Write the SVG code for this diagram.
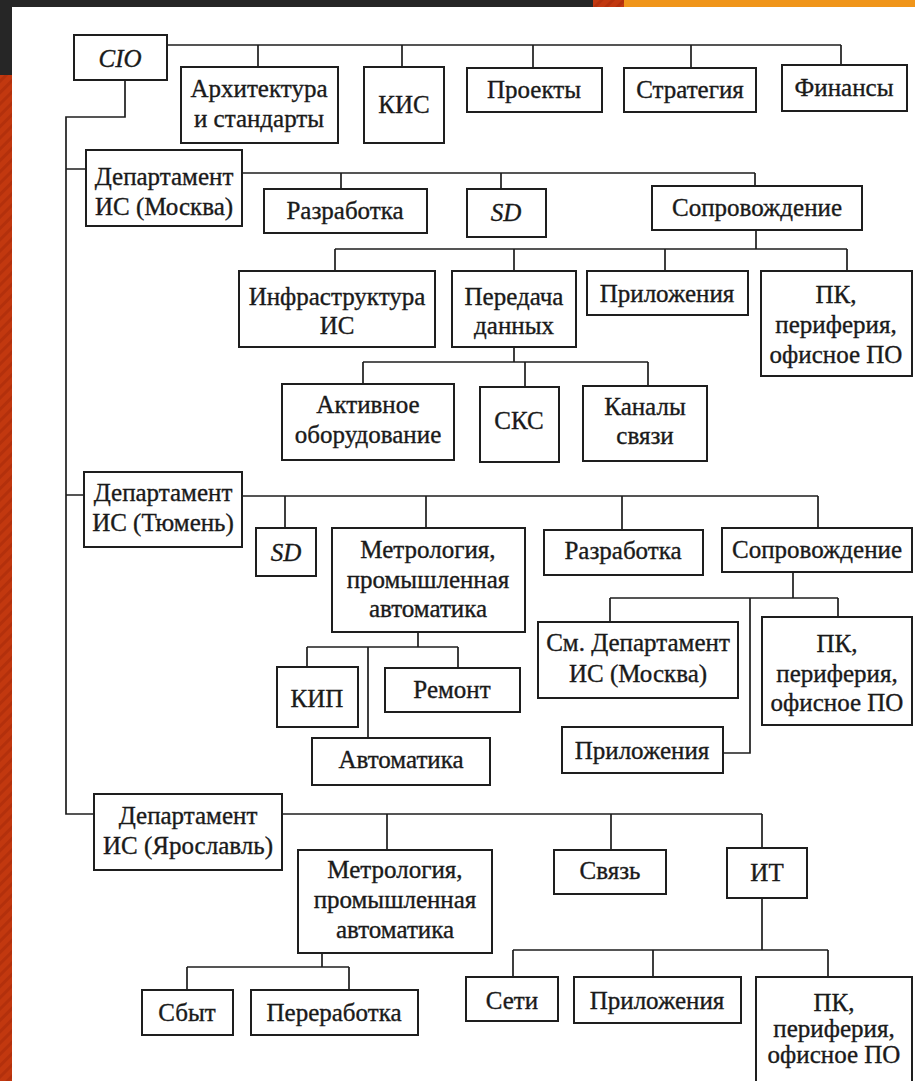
<svg xmlns="http://www.w3.org/2000/svg" width="915" height="1081" viewBox="0 0 915 1081">
<defs>
<pattern id="stripes" width="8" height="8" patternUnits="userSpaceOnUse" patternTransform="rotate(45)">
<rect width="8" height="8" fill="#c2380f"/>
<rect width="3" height="8" fill="#b3300c"/>
</pattern>
<style>
.box{fill:#fff;stroke:#1e1e1e;stroke-width:2}
.ln{fill:none;stroke:#1e1e1e;stroke-width:1.7}
text{font-family:"Liberation Serif","Times New Roman",serif;font-size:25px;fill:#1a1a1a;stroke:#1a1a1a;stroke-width:0.35;text-anchor:middle}
.it{font-style:italic}
</style>
</defs>
<rect width="915" height="1081" fill="#fff"/>
<rect x="0" y="0" width="915" height="7" fill="#262626"/>
<rect x="593" y="0" width="31" height="7" fill="url(#stripes)"/>
<rect x="624" y="0" width="291" height="7" fill="#f0951a"/>
<rect x="0" y="0" width="12" height="75" fill="#262626"/>
<rect x="0" y="75" width="12" height="1006" fill="url(#stripes)"/>

<g id="connectors">
<path class="ln" d="M167,45 H841 M258,45 V67 M402,45 V67 M533,45 V68 M691,45 V68 M841,45 V65"/>
<path class="ln" d="M125,80 V117 H66 V814 H94 M66,169 H86 M66,495 H84"/>
<path class="ln" d="M242,173 H755 M341,173 V189 M501,173 V189 M755,173 V186"/>
<path class="ln" d="M756,230 V249 M335,249 H847 M335,249 V271 M514,249 V271 M665,249 V271 M847,249 V271"/>
<path class="ln" d="M514,347 V362 M363,362 H648 M363,362 V384 M525,362 V387 M648,362 V386"/>
<path class="ln" d="M242,496 H818 M285,496 V528 M426,496 V528 M622,496 V530 M818,496 V528"/>
<path class="ln" d="M418,632 V647 M307,647 H458 M307,647 V667 M458,647 V668 M368,647 V738"/>
<path class="ln" d="M793,572 V598 M610,598 H838 M610,598 V622 M838,598 V617 M750,598 V753 H723"/>
<path class="ln" d="M282,814 H762 M387,814 V850 M611,814 V850 M762,814 V848"/>
<path class="ln" d="M322,953 V967 M187,967 H349 M187,967 V990 M349,967 V990"/>
<path class="ln" d="M762,898 V950 M513,950 H828 M513,950 V977 M653,950 V977 M828,950 V977"/>
</g>

<g id="cio"><rect class="box" x="74" y="35" width="93" height="45"/><text class="it" x="120" y="67">CIO</text></g>
<g id="arch"><rect class="box" x="181" y="67" width="157" height="76"/><text x="259" y="97">Архитектура</text><text x="259" y="127">и стандарты</text></g>
<g id="kis"><rect class="box" x="364" y="67" width="80" height="76"/><text x="404" y="113">КИС</text></g>
<g id="proekty"><rect class="box" x="467" y="68" width="135" height="44"/><text x="534" y="98">Проекты</text></g>
<g id="strategia"><rect class="box" x="624" y="68" width="132" height="44"/><text x="690" y="98">Стратегия</text></g>
<g id="finansy"><rect class="box" x="782" y="65" width="125" height="46"/><text x="844" y="96">Финансы</text></g>

<g id="dep-moscow"><rect class="box" x="86" y="150" width="156" height="76"/><text x="164" y="185">Департамент</text><text x="164" y="215">ИС (Москва)</text></g>
<g id="m-razrabotka"><rect class="box" x="264" y="189" width="163" height="44"/><text x="345" y="219">Разработка</text></g>
<g id="m-sd"><rect class="box" x="467" y="189" width="79" height="48"/><text class="it" x="506" y="221">SD</text></g>
<g id="m-soprov"><rect class="box" x="652" y="186" width="210" height="44"/><text x="757" y="216">Сопровождение</text></g>
<g id="m-infra"><rect class="box" x="239" y="271" width="196" height="76"/><text x="337" y="305">Инфраструктура</text><text x="337" y="334">ИС</text></g>
<g id="m-peredacha"><rect class="box" x="452" y="271" width="124" height="76"/><text x="514" y="305">Передача</text><text x="514" y="334">данных</text></g>
<g id="m-prilozh"><rect class="box" x="587" y="271" width="161" height="44"/><text x="667" y="302">Приложения</text></g>
<g id="m-pk"><rect class="box" x="761" y="271" width="151" height="105"/><text x="836" y="303">ПК,</text><text x="836" y="333">периферия,</text><text x="836" y="363">офисное ПО</text></g>
<g id="m-aktiv"><rect class="box" x="282" y="384" width="172" height="76"/><text x="368" y="413">Активное</text><text x="368" y="443">оборудование</text></g>
<g id="m-sks"><rect class="box" x="480" y="387" width="79" height="75"/><text x="519" y="429">СКС</text></g>
<g id="m-kanaly"><rect class="box" x="583" y="386" width="124" height="75"/><text x="645" y="415">Каналы</text><text x="645" y="444">связи</text></g>

<g id="dep-tyumen"><rect class="box" x="84" y="472" width="158" height="75"/><text x="163" y="501">Департамент</text><text x="163" y="531">ИС (Тюмень)</text></g>
<g id="t-sd"><rect class="box" x="256" y="528" width="60" height="48"/><text class="it" x="286" y="561">SD</text></g>
<g id="t-metro"><rect class="box" x="332" y="528" width="193" height="104"/><text x="428" y="558">Метрология,</text><text x="428" y="588">промышленная</text><text x="428" y="617">автоматика</text></g>
<g id="t-razrabotka"><rect class="box" x="544" y="530" width="159" height="45"/><text x="623" y="559">Разработка</text></g>
<g id="t-soprov"><rect class="box" x="722" y="528" width="190" height="44"/><text x="817" y="558">Сопровождение</text></g>
<g id="t-kip"><rect class="box" x="277" y="667" width="81" height="60"/><text x="317" y="707">КИП</text></g>
<g id="t-remont"><rect class="box" x="385" y="668" width="135" height="44"/><text x="452" y="698">Ремонт</text></g>
<g id="t-avtomatika"><rect class="box" x="312" y="738" width="178" height="47"/><text x="401" y="768">Автоматика</text></g>
<g id="t-sm"><rect class="box" x="538" y="622" width="200" height="76"/><text x="638" y="651">См. Департамент</text><text x="638" y="682">ИС (Москва)</text></g>
<g id="t-pk"><rect class="box" x="762" y="617" width="150" height="108"/><text x="837" y="652">ПК,</text><text x="837" y="682">периферия,</text><text x="837" y="711">офисное ПО</text></g>
<g id="t-prilozh"><rect class="box" x="562" y="727" width="161" height="46"/><text x="642" y="759">Приложения</text></g>

<g id="dep-yar"><rect class="box" x="94" y="794" width="188" height="76"/><text x="188" y="824">Департамент</text><text x="188" y="854">ИС (Ярославль)</text></g>
<g id="y-metro"><rect class="box" x="298" y="850" width="194" height="103"/><text x="395" y="878">Метрология,</text><text x="395" y="908">промышленная</text><text x="395" y="938">автоматика</text></g>
<g id="y-svyaz"><rect class="box" x="554" y="850" width="112" height="44"/><text x="610" y="879">Связь</text></g>
<g id="y-it"><rect class="box" x="727" y="848" width="80" height="50"/><text x="767" y="881">ИТ</text></g>
<g id="y-sbyt"><rect class="box" x="142" y="990" width="91" height="45"/><text x="187" y="1021">Сбыт</text></g>
<g id="y-pererab"><rect class="box" x="251" y="990" width="167" height="45"/><text x="334" y="1021">Переработка</text></g>
<g id="y-seti"><rect class="box" x="466" y="977" width="92" height="44"/><text x="512" y="1009">Сети</text></g>
<g id="y-prilozh"><rect class="box" x="574" y="977" width="167" height="46"/><text x="657" y="1009">Приложения</text></g>
<g id="y-pk"><rect class="box" x="756" y="977" width="156" height="110"/><text x="834" y="1011">ПК,</text><text x="834" y="1037">периферия,</text><text x="834" y="1063">офисное ПО</text></g>
</svg>
